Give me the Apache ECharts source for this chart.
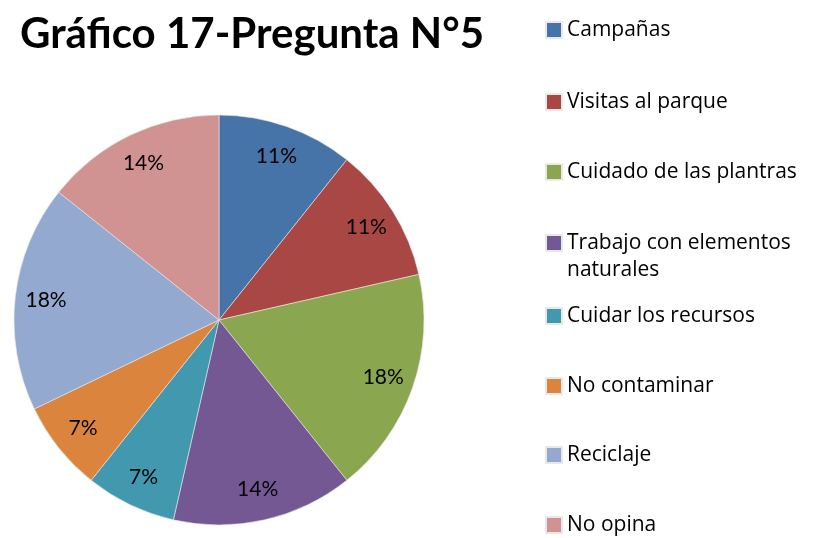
<!DOCTYPE html>
<html>
<head>
<meta charset="utf-8">
<script src="https://cdn.jsdelivr.net/npm/echarts@6/dist/echarts.min.js"></script>
<style>
  html, body { margin: 0; padding: 0; background: #fff; }
  #chart { width: 830px; height: 538px; }
</style>
</head>
<body>
<div id="chart"></div>
<script>
// answers (counts, shown as rounded percent)
const categories = ['Campañas', 'Visitas al parque', 'Cuidado de las plantras', 'Trabajo con elementos naturales',
  'Cuidar los recursos', 'No contaminar', 'Reciclaje', 'No opina']
const counts = [3, 3, 5, 4, 2, 2, 5, 4]
const colors = ['#4674A8', '#A94744', '#8AA64E', '#735893', '#4198AF', '#DB843D', '#93A9CF', '#D19392']

const legendY = [30, 102, 172, 243, 316, 386, 455, 525]
const font = 'Lato, "Open Sans", sans-serif'
const legendFont = '"Open Sans", Lato, sans-serif'

const chart = echarts.init(document.getElementById('chart'))
const pieData = categories.map((name, i) => ({ name, value: counts[i], itemStyle: { color: colors[i] } }))

// one legend per item so they can sit where the original puts them
const legends = categories.map((name, i) => {
  // the long one wraps; a blank first line keeps the square on the first text line
  const twoLines = i === 3
  return {
    data: [name],
    orient: 'vertical',
    left: 545,
    top: twoLines ? legendY[i] - 40.5 : legendY[i] - 12,
    padding: 0,
    icon: 'rect',
    itemWidth: 16,
    itemHeight: 16,
    selectedMode: false,
    formatter: twoLines ? ' \nTrabajo con elementos\nnaturales' : '{name}',
    textStyle: {
      fontFamily: legendFont,
      fontSize: 21,
      color: '#000',
      lineHeight: twoLines ? 27 : 24
    }
  }
})

const option = {
  animation: false,
  title: {
    text: 'Gráfico 17-Pregunta N°5',
    left: 15,
    top: 8,
    textStyle: { fontFamily: font, fontSize: 42, fontWeight: 'bold', color: '#000' }
  },
  legend: legends,
  series: [
    {
      type: 'pie',
      center: [219, 320],
      radius: 205,
      startAngle: 90,
      clockwise: true,
      label: { show: false },
      labelLine: { show: false },
      itemStyle: { borderColor: '#e8e8e8', borderWidth: 0.6 },
      data: pieData
    },
    // transparent ring, only used to put the percent labels near the rim
    {
      type: 'pie',
      center: [219, 320],
      radius: [137, 205],
      startAngle: 90,
      clockwise: true,
      silent: true,
      percentPrecision: 0,
      itemStyle: { color: 'rgba(0,0,0,0)', borderWidth: 0 },
      label: {
        show: true,
        position: 'inside',
        formatter: '{d}%',
        fontFamily: font,
        fontSize: 21,
        color: '#000'
      },
      labelLine: { show: false },
      data: categories.map((name, i) => ({ name, value: counts[i] }))
    }
  ]
}
chart.setOption(option)
</script>
</body>
</html>
